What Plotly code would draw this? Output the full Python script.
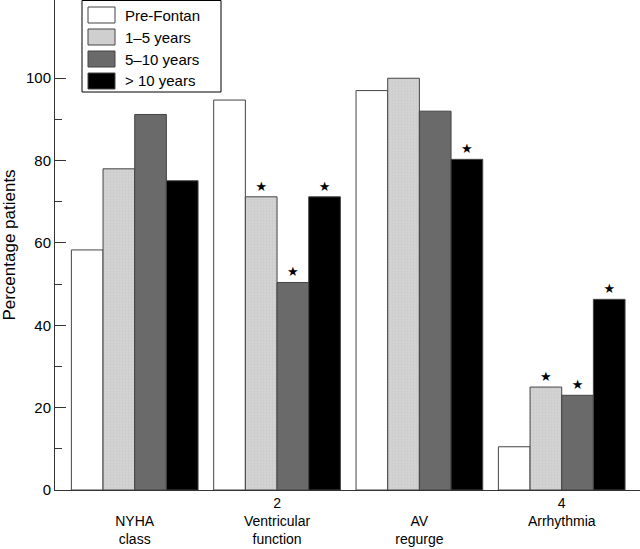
import plotly.graph_objects as go

categories = [1, 2, 3, 4]
tick_labels = [" <br>NYHA<br>class", "2<br>Ventricular<br>function", " <br>AV<br>regurge", "4<br>Arrhythmia<br> "]
series_names = ["Pre-Fontan", "1\u20135 years", "5\u201310 years", "> 10 years"]
pre_fontan = [58.3, 94.7, 97.0, 10.5]
years_1_5 = [78.0, 71.2, 100.0, 25.0]
years_5_10 = [91.2, 50.4, 92.0, 23.0]
years_10_plus = [75.1, 71.2, 80.3, 46.3]
stars_pre = ["", "", "", ""]
stars_1_5 = ["", "\u2605", "", "\u2605"]
stars_5_10 = ["", "\u2605", "", "\u2605"]
stars_10_plus = ["", "\u2605", "\u2605", "\u2605"]

colors = ["#ffffff", "#cfcfcf", "#6a6a6a", "#000000"]
values = [pre_fontan, years_1_5, years_5_10, years_10_plus]
stars = [stars_pre, stars_1_5, stars_5_10, stars_10_plus]

W, H = 640, 549
ML, MR, MT, MB = 55, 0, 0, 59
PW, PH = W - ML - MR, H - MT - MB


def px_x(p):
    return (p - ML) / PW


def px_y(p):
    return 1 - (p - MT) / PH


fig = go.Figure()
for name, vals, col, st in zip(series_names, values, colors, stars):
    marker = dict(color=col, line=dict(color="#444444", width=1))
    if col == "#cfcfcf":
        marker["pattern"] = dict(shape=".", fgcolor="#c2c2c2", bgcolor="#d3d3d3", size=3, solidity=0.3)
    fig.add_trace(go.Bar(
        x=categories, y=vals, name=name, marker=marker,
        text=st, textposition="outside", cliponaxis=False,
        textfont=dict(size=13, color="black", family="DejaVu Sans"),
        showlegend=False,
    ))

# manual legend (large swatches like the reference)
shapes = [dict(type="rect", xref="paper", yref="paper",
               x0=px_x(82), x1=px_x(221), y0=px_y(92), y1=px_y(0.5),
               line=dict(color="black", width=1), fillcolor="white", layer="above")]
annotations = []
for i, (name, col) in enumerate(zip(series_names, colors)):
    cy = 15 + 22 * i
    shape = dict(type="rect", xref="paper", yref="paper",
                 x0=px_x(88), x1=px_x(115), y0=px_y(cy + 8), y1=px_y(cy - 8),
                 line=dict(color="#444444", width=1), fillcolor=col, layer="above")
    shapes.append(shape)
    annotations.append(dict(xref="paper", yref="paper", x=px_x(123), y=px_y(cy),
                            xanchor="left", yanchor="middle", text=name, showarrow=False,
                            font=dict(size=15, color="black")))

fig.update_layout(
    width=W, height=H,
    margin=dict(l=ML, r=MR, t=MT, b=MB),
    paper_bgcolor="white", plot_bgcolor="white",
    barmode="group", bargap=0.11, bargroupgap=0,
    font=dict(family="Liberation Sans, Arial, sans-serif", size=15, color="black"),
    showlegend=False,
    shapes=shapes, annotations=annotations,
)
fig.update_xaxes(
    range=[0.44, 4.55], tickvals=categories, ticktext=tick_labels,
    showline=True, linecolor="#333333", linewidth=1, ticks="",
    showgrid=False, zeroline=False, tickfont=dict(size=14), automargin=False,
)
fig.update_yaxes(
    range=[0, 119], tickvals=[0, 20, 40, 60, 80, 100],
    showline=True, linecolor="#333333", linewidth=1,
    ticks="inside", ticklen=11, tickcolor="#333333",
    minor=dict(tickvals=[10, 30, 50, 70, 90], ticks="inside", ticklen=7, tickcolor="#333333"),
    showgrid=False, zeroline=False, tickfont=dict(size=15), automargin=False,
    title=dict(text="Percentage patients", font=dict(size=17), standoff=6),
)
fig.write_html("out.html", config={"displayModeBar": False},
               post_script="document.body.style.margin='0';")
